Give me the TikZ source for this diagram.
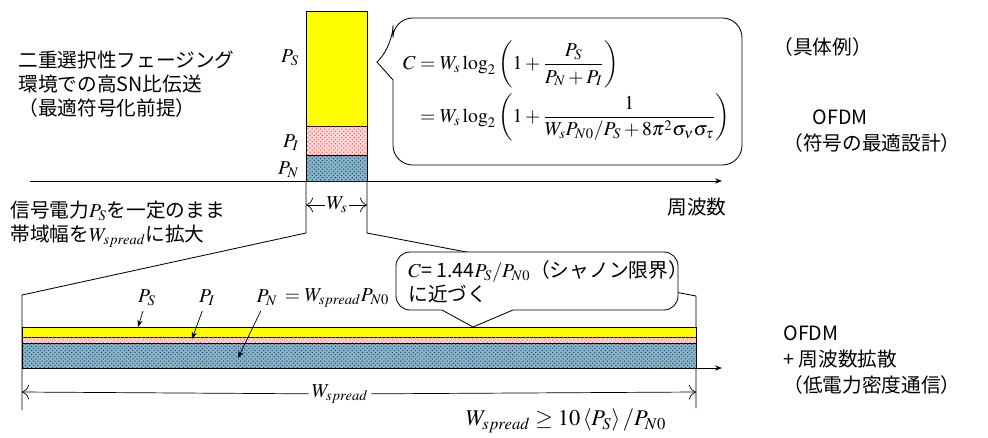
\documentclass[tikz,border=0pt]{standalone}
\usepackage{amsmath}
\usepackage{mathptmx}
\usepackage{fontspec}
\newfontfamily\jpfont{Noto Sans CJK JP}
\usetikzlibrary{arrows.meta, patterns, positioning}

\definecolor{sigyellow}{RGB}{255,255,0}
\definecolor{intpink}{RGB}{255,214,214}
\definecolor{intred}{RGB}{235,90,90}
\definecolor{noiseblue}{RGB}{135,180,200}
\definecolor{noisedark}{RGB}{35,75,105}

\begin{document}
\begin{tikzpicture}[
  x=0.025cm, y=-0.025cm, line width=0.6pt,
  font=\jpfont\fontsize{14}{17}\selectfont,
  > = {Stealth[length=5pt]},
  txt/.style = {inner sep=0pt, align=left},
  sigband/.style = {draw, fill=sigyellow},
  intband/.style = {draw, fill=intpink, postaction={pattern=crosshatch dots, pattern color=intred}},
  noiseband/.style = {draw, fill=noiseblue, postaction={pattern=crosshatch dots, pattern color=noisedark}},
  dim/.style = {-{To[length=5pt]}, line width=0.5pt}
  ]
  \useasboundingbox (0,0) rectangle (988,437);

  % frequency axis (top)
  \draw[->] (30,181) -- (722,181);
  \node (freq) at (697,207) {周波数};

  % narrow band spectrum
  \draw[sigband] (306,11) rectangle (367,126);
  \draw[intband] (306,126) rectangle (367,155);
  \draw[noiseband] (306,155) rectangle (367,181);
  \node[anchor=east] (ps) at (304,58) {$P_S$};
  \node[anchor=east] (pi) at (304,143) {$P_I$};
  \node[anchor=east] (pn) at (304,170) {$P_N$};

  % zoom lines
  \coordinate (wsl) at (306,233);
  \coordinate (wsr) at (367,233);
  \coordinate (wl) at (22,295);
  \coordinate (wr) at (696,296);
  \draw (306,181) -- (wsl) -- (wl) -- (22,410);
  \draw (367,181) -- (wsr) -- (wr) -- (696,408);

  \node[inner sep=1pt] (ws) at (337,205) {$W_s$};
  \draw[dim] (ws) -- (306,205);
  \draw[dim] (ws) -- (367,205);

  % capacity callout
  \draw[rounded corners=14pt] (393,80) -- (393,165) -- (742,165) -- (742,18) -- (393,18) -- (393,45)
    [sharp corners] -- (377,62) -- (393,80);
  \node[anchor=west] (cap) at (398,91) {$\displaystyle\begin{aligned}
    C &= W_s\log_2\left(1+\frac{P_S}{P_N+P_I}\right)\\
      &= W_s\log_2\left(1+\frac{1}{W_sP_{N0}/P_S+8\pi^2\sigma_\nu\sigma_\tau}\right)
    \end{aligned}$};

  % left texts
  \node[txt, anchor=west] (fading) at (18,84) {二重選択性フェージング\\環境での高SN比伝送\\（最適符号化前提）};
  \node[txt, anchor=west] (spread) at (10,224) {信号電力$P_S$を一定のまま\\帯域幅を$W_{spread}$に拡大};

  % right texts
  \node[txt, anchor=west] (example) at (773,47) {（具体例）};
  \node[txt, anchor=west] (ofdm) at (783,131) {\hspace{1.5em}OFDM\\[2pt]（符号の最適設計）};
  \node[txt, anchor=west] (ofdmsp) at (783,360) {OFDM\\[1.5pt]+ 周波数拡散\\[1.5pt]（低電力密度通信）};

  % shannon callout
  \draw[fill=white] (442,310) -- (473,327) -- (513,310) [rounded corners=10pt] -- (678,310) -- (678,252)
    -- (396,252) -- (396,310) [sharp corners] -- (442,310);
  \node[txt, anchor=west] (shannon) at (408,282) {$C$= 1.44$P_S/P_{N0}$（シャノン限界）\\に近づく};

  % wide band spectrum
  \draw[sigband] (22,327) rectangle (696,337);
  \draw[intband] (22,337) rectangle (696,343);
  \draw[noiseband] (22,343) rectangle (696,368);
  \draw[->] (22,368) -- (722,368);

  \node (bps) at (147,298) {$P_S$};
  \node (bpi) at (207,298) {$P_I$};
  \node (bpn) at (267,298) {$P_N$};
  \node[right=-2pt of bpn] (bpnv) {$= W_{spread}P_{N0}$};
  \coordinate (bpst) at (138,327);
  \coordinate (bpit) at (192,339);
  \coordinate (bpnt) at (238,358);
  \draw[->, line width=0.5pt] (bps) -- (bpst);
  \draw[->, line width=0.5pt] (bpi) -- (bpit);
  \draw[->, line width=0.5pt] (bpn) -- (bpnt);

  \node[inner sep=2pt] (wsp) at (340,394) {$W_{spread}$};
  \draw[dim] (wsp) -- (22,392);
  \draw[dim] (wsp) -- (696,392);

  \node (cond) at (566,421) {\fontsize{16}{19}\selectfont$W_{spread}\geq 10\left\langle P_S\right\rangle/P_{N0}$};
\end{tikzpicture}
\end{document}
